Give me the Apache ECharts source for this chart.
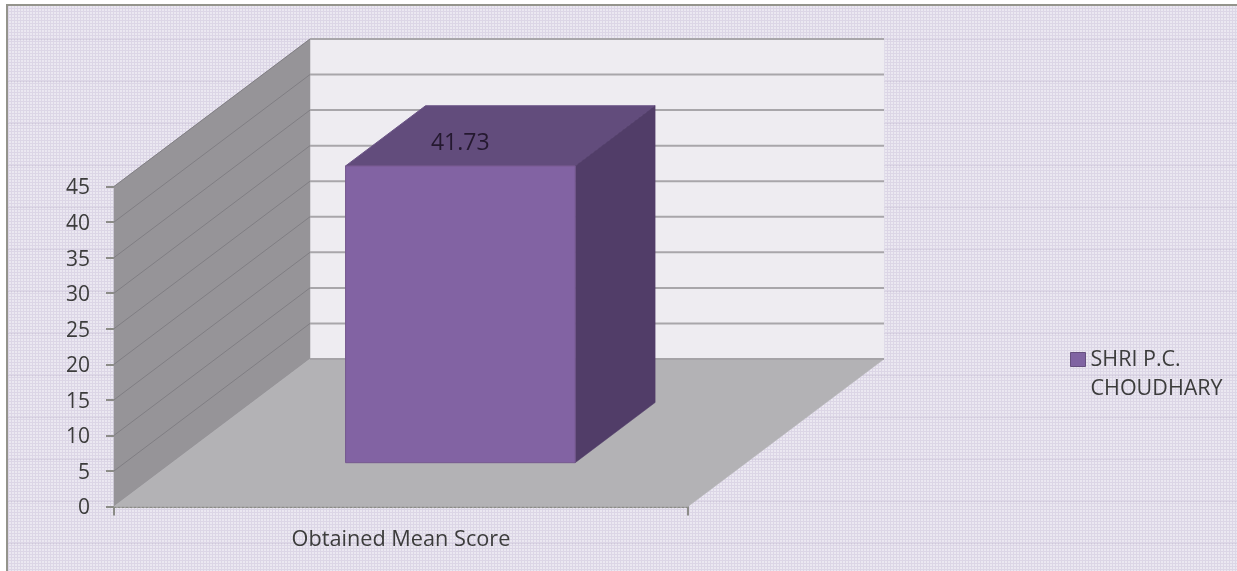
<!DOCTYPE html>
<html>
<head>
<meta charset="utf-8">
<style>html,body{margin:0;padding:0;background:#fff}#c{width:1237px;height:571px}</style>
<script src="https://cdn.jsdelivr.net/npm/echarts@6/dist/echarts.min.js"></script>
</head>
<body>
<div id="c"></div>
<script>
const categories = ['Obtained Mean Score'];
const seriesName = 'SHRI P.C. CHOUDHARY';
const scoreValues = [41.73];
const gridValues = [5, 10, 15, 20, 25, 30, 35, 40, 45];

// paper texture
const tile = document.createElement('canvas');
tile.width = 3; tile.height = 42;
const t = tile.getContext('2d');
t.fillStyle = '#dcd6e6'; t.fillRect(0, 0, 3, 42);
for (let y = 0; y < 42; y += 3) {
  t.fillStyle = '#ebe8f1'; t.fillRect(0, y, 2, 2);
}
t.fillStyle = 'rgba(150,135,170,0.18)'; t.fillRect(0, 39, 3, 1);

const DX = 196, DY = 147.5;
const poly = (points, fill, stroke) => ({
  type: 'polygon', shape: { points },
  style: { fill, stroke: stroke || fill, lineWidth: stroke ? 1 : 0.5 }
});
const line = (a, b, stroke, lineWidth) => ({
  type: 'line', shape: { x1: a[0], y1: a[1], x2: b[0], y2: b[1] },
  style: { stroke, lineWidth }
});
function frame(api) {
  const w = api.size([1, 0])[0];
  return (v) => { const p = api.coord([0, v]); return { l: p[0] - w / 2, r: p[0] + w / 2, y: p[1] }; };
}

const chart = echarts.init(document.getElementById('c'), null, { renderer: 'canvas' });
chart.setOption({
  animation: false,
  backgroundColor: 'transparent',
  textStyle: { fontFamily: 'Open Sans' },
  graphic: [
    { type: 'rect', z: -10, shape: { x: 6, y: 5, width: 1231, height: 566 },
      style: { fill: { image: tile, repeat: 'repeat' } } },
    { type: 'line', z: -9, shape: { x1: 7, y1: 5, x2: 7, y2: 571 }, style: { stroke: '#94948c', lineWidth: 2 } },
    { type: 'line', z: -9, shape: { x1: 6, y1: 5, x2: 1237, y2: 5 }, style: { stroke: '#94948c', lineWidth: 2 } }
  ],
  grid: { left: 114, right: 549, top: 186.5, bottom: 64.5, containLabel: false },
  xAxis: {
    type: 'category', data: categories, boundaryGap: true,
    axisLine: { show: true, lineStyle: { color: '#8c8c88', width: 2, type: 'dotted' } },
    axisTick: { show: true, alignWithLabel: false, length: 9, lineStyle: { color: '#8c8c88', width: 2 } },
    axisLabel: { color: '#3c3c3c', fontSize: 21.7, margin: 22, fontFamily: 'Open Sans' }
  },
  yAxis: {
    type: 'value', min: 0, max: 45, interval: 5,
    splitLine: { show: false },
    axisLine: { show: false },
    axisTick: { show: true, length: 8, lineStyle: { color: '#8c8c88', width: 2 } },
    axisLabel: {
      margin: 24, formatter: '{a|{value}}',
      rich: { a: { color: '#3c3c3c', fontSize: 21, padding: [4, 0, 0, 0], fontFamily: 'Open Sans' } }
    }
  },
  legend: {
    show: true, data: [{ name: seriesName, icon: 'rect' }], selectedMode: false,
    left: 1065, top: 311, itemWidth: 15, itemHeight: 14, itemGap: 0,
    itemStyle: { borderColor: '#66507f', borderWidth: 1 },
    formatter: () => '\u00a0\nSHRI P.C.\nCHOUDHARY',
    textStyle: { color: '#3c3c3c', fontSize: 21.5, lineHeight: 29, fontFamily: 'Open Sans' }
  },
  tooltip: { show: false },
  series: [
    {
      type: 'custom', name: 'room', silent: true, z: 1, clip: false,
      data: [[0, 0]], encode: { x: 0, y: 1 },
      renderItem: (params, api) => {
        const f = frame(api), a = f(0), b = f(45);
        return { type: 'group', children: [
          poly([[b.l + DX, b.y - DY], [b.r + DX, b.y - DY], [a.r + DX, a.y - DY], [a.l + DX, a.y - DY]], '#eeecf1'),
          poly([[b.l, b.y], [b.l + DX, b.y - DY], [a.l + DX, a.y - DY], [a.l, a.y]], '#969498'),
          poly([[a.l, a.y], [a.r, a.y], [a.r + DX, a.y - DY], [a.l + DX, a.y - DY]], '#b3b2b5'),
          line([a.l + DX, a.y - DY], [a.r + DX, a.y - DY], '#a5a3a7', 2)
        ]};
      }
    },
    {
      type: 'custom', name: 'gridlines', silent: true, z: 2, clip: false,
      data: gridValues.map(v => [0, v]), encode: { x: 0, y: 1 },
      renderItem: (params, api) => {
        const f = frame(api), g = f(api.value(1));
        return { type: 'group', children: [
          line([g.l, g.y], [g.l + DX, g.y - DY], '#807e83', 1),
          line([g.l + DX, g.y - DY], [g.r + DX, g.y - DY], '#a8a6aa', 2)
        ]};
      }
    },
    {
      type: 'custom', name: seriesName, z: 3, clip: false,
      itemStyle: { color: '#8064a2' },
      data: categories.map((c, i) => [i, scoreValues[i]]), encode: { x: 0, y: 1 },
      renderItem: (params, api) => {
        const f = frame(api), a = f(0), v = api.value(1), top = f(v);
        const w = a.r - a.l;
        const D0 = 0.297, D1 = 0.705, B0 = 0.302, B1 = 0.702;
        const c = (fx, y, d) => [a.l + fx * w + d * DX, y - d * DY];
        return { type: 'group', children: [
          poly([c(B0, top.y, D0), c(B1, top.y, D0), c(B1, top.y, D1), c(B0, top.y, D1)], '#624c7c', '#6a5386'),
          poly([c(B1, a.y, D0), c(B1, top.y, D0), c(B1, top.y, D1), c(B1, a.y, D1)], '#513d68'),
          poly([c(B0, a.y, D0), c(B1, a.y, D0), c(B1, top.y, D0), c(B0, top.y, D0)], '#8263a3', '#76598f'),
          { type: 'text', style: {
              text: String(v), x: c(0.5, top.y, D0)[0] + 1, y: top.y - D0 * DY - 22.5,
              fill: '#24182f', font: '23px "Open Sans"', align: 'center', verticalAlign: 'middle' } }
        ]};
      }
    }
  ]
});
</script>
</body>
</html>
